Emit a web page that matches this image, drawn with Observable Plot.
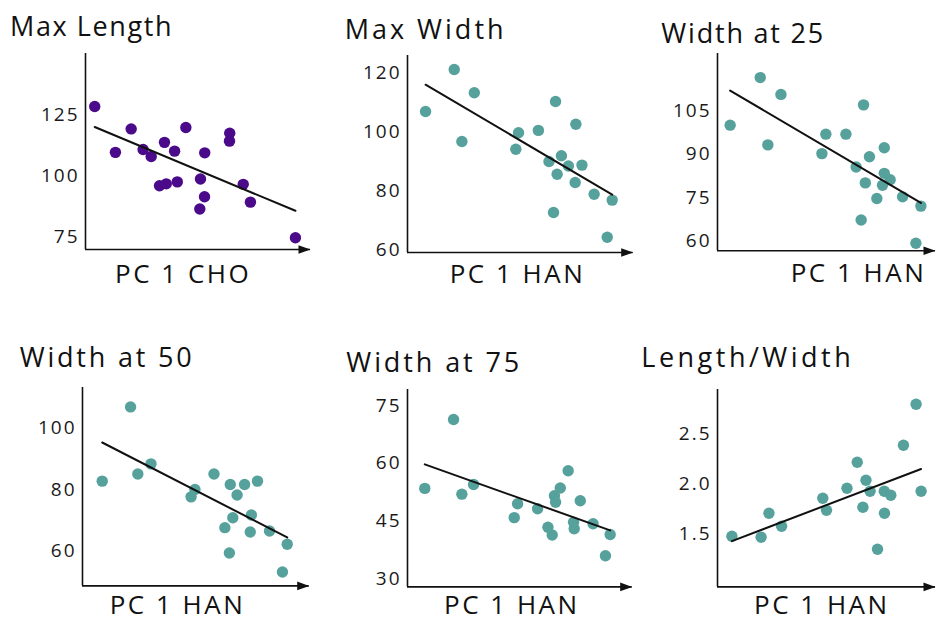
<!DOCTYPE html>
<html>
<head>
<meta charset="utf-8">
<script src="https://cdn.jsdelivr.net/npm/d3@7"></script>
<script src="https://cdn.jsdelivr.net/npm/@observablehq/plot@0.6"></script>
<style>
  html, body { margin: 0; padding: 0; background: #fff; overflow: hidden; }
  #chart { position: relative; width: 936px; height: 621px; font-family: "Open Sans", sans-serif; color: #111; }
  .title { position: absolute; font-size: 27px; line-height: 27px; white-space: nowrap; }
  .xlabel { position: absolute; font-size: 26px; line-height: 26px; white-space: nowrap; letter-spacing: 2.5px; }
  .panel { position: absolute; }
</style>
</head>
<body>
<div id="chart"></div>
<script>
// ---- data ----
const titles  = ["Max Length", "Max Width", "Width at 25", "Width at 50", "Width at 75", "Length/Width"];
const xLabels = ["PC 1 CHO", "PC 1 HAN", "PC 1 HAN", "PC 1 HAN", "PC 1 HAN", "PC 1 HAN"];

const maxLengthX = [0.41,1.33,2.03,2.56,2.92,3.29,3.59,3.51,3.96,4.08,4.46,5.11,5.30,5.29,5.08,6.41,6.40,7.01,7.33,9.33];
const maxLengthY = [128.3,109.5,119.1,110.7,107.8,95.8,96.6,113.6,110.0,97.4,119.7,98.6,109.3,91.3,86.3,117.3,114.1,96.4,89.1,74.5];

const maxWidthX = [0.80,2.07,2.96,2.41,4.92,4.80,5.80,6.56,7.46,6.27,6.82,6.63,7.13,7.73,7.43,8.27,9.07,6.47,8.85];
const maxWidthY = [107.0,121.3,113.4,96.8,99.8,94.2,100.6,110.4,102.7,90.0,92.0,85.7,88.5,88.8,82.9,78.9,76.9,72.7,64.3];

const width25X = [0.58,1.96,2.91,2.31,4.97,4.79,5.89,6.70,7.65,6.97,6.36,7.65,7.92,6.78,7.57,7.31,8.49,9.33,6.59,9.10];
const width25Y = [100.0,116.4,110.6,93.2,96.9,90.2,96.9,107.0,92.2,89.1,85.6,83.4,81.2,80.1,79.3,74.7,75.3,72.1,67.3,59.3];

const width50X = [0.87,2.12,2.44,3.02,4.96,4.79,5.80,6.52,7.15,7.72,6.82,6.63,7.45,6.28,7.40,8.25,9.03,6.48,8.82];
const width50Y = [82.7,106.8,85.0,88.3,80.0,77.6,85.0,81.6,81.6,82.7,78.2,70.8,71.7,67.6,66.2,66.5,62.2,59.4,53.2];

const width75X = [0.77,2.05,2.42,2.94,4.90,4.75,5.79,7.15,6.80,6.54,6.59,7.69,6.25,6.44,7.39,7.42,8.26,9.02,8.81];
const width75Y = [53.5,71.4,52.0,54.5,49.5,45.9,48.2,58.1,53.6,51.6,49.9,50.3,43.4,41.4,44.7,43.0,44.3,41.5,36.0];

const ratioX = [0.66,2.00,2.36,2.94,4.83,5.00,5.94,6.41,6.81,6.67,7.00,7.65,7.95,7.66,7.34,8.53,9.11,9.34];
const ratioY = [1.48,1.47,1.71,1.58,1.86,1.74,1.96,2.22,2.04,1.77,1.93,1.93,1.89,1.71,1.35,2.39,2.80,1.93];

const seriesX = [maxLengthX, maxWidthX, width25X, width50X, width75X, ratioX];
const seriesY = [maxLengthY, maxWidthY, width25Y, width50Y, width75Y, ratioY];

const yTicks   = [[125,100,75], [120,100,80,60], [105,90,75,60], [100,80,60], [75,60,45,30], [2.5,2.0,1.5]];
const yDomains = [[69.7,150], [59.1,126.05], [56.7,124.7], [48.7,113.1], [27.9,79.2], [0.973,2.947]];
const xDomain  = [0, 10];

// ---- layout & style ----
const dotColors = ["#4a0a8a", "#56a19c", "#56a19c", "#56a19c", "#56a19c", "#56a19c"];
const tickFormats = [d3.format("d"), d3.format("d"), d3.format("d"), d3.format("d"), d3.format("d"), d3.format(".1f")];
const layout = [
  {axisX: 85,    top: 53,   bottom: 249,   w: 225,   tX: 12,    tBase: 36,    tLs: 1.6, lX: 117,   lBase: 283},
  {axisX: 407.3, top: 55,   bottom: 252,   w: 225.7, tX: 346.7, tBase: 39.3,  tLs: 3.0, lX: 451.7, lBase: 283.3},
  {axisX: 717.3, top: 52.7, bottom: 250,   w: 218,   tX: 663.3, tBase: 42.7,  tLs: 1.8, lX: 792.7, lBase: 281.7},
  {axisX: 82.3,  top: 387.3,bottom: 585.7, w: 226.7, tX: 21.7,  tBase: 366.7, tLs: 2.8, lX: 111.7, lBase: 614},
  {axisX: 407.3, top: 389.3,bottom: 586.7, w: 224.7, tX: 348.3, tBase: 371.7, tLs: 2.9, lX: 446,   lBase: 614},
  {axisX: 717.3, top: 389.3,bottom: 586.7, w: 218,   tX: 643.3, tBase: 366.7, tLs: 3.5, lX: 756,   lBase: 614}
];

const arrowHead = {
  draw(ctx) { ctx.moveTo(6, 0); ctx.lineTo(-6, -4.3); ctx.lineTo(-6, 4.3); ctx.closePath(); }
};

const chart = document.getElementById("chart");
const mL = 60, mT = 8, mB = 8;

layout.forEach((L, i) => {
  const data = seriesX[i].map((x, k) => ({x, y: seriesY[i][k]}));
  const yDom = yDomains[i];
  const mR = (L.axisX + L.w > 930) ? 1 : 8;
  const plot = Plot.plot({
    width: mL + L.w + mR,
    height: mT + (L.bottom - L.top) + mB,
    marginLeft: mL, marginRight: mR, marginTop: mT, marginBottom: mB,
    x: {domain: xDomain, axis: null},
    y: {domain: yDom, ticks: yTicks[i], tickSize: 0, tickPadding: 6, label: null, tickFormat: tickFormats[i]},
    style: {fontFamily: "Open Sans", fontSize: "19px", color: "#1a1a1a", background: "transparent", overflow: "visible", letterSpacing: "2px"},
    marks: [
      Plot.ruleX([xDomain[0]], {stroke: "#111", strokeWidth: 1.6}),
      Plot.ruleY([yDom[0]], {stroke: "#111", strokeWidth: 1.6}),
      Plot.dot([{x: xDomain[1], y: yDom[0]}], {x: "x", y: "y", symbol: arrowHead, fill: "#111", r: 5, dx: -6}),
      Plot.dot(data, {x: "x", y: "y", r: 5.7, fill: dotColors[i], stroke: "none"}),
      Plot.linearRegressionY(data, {x: "x", y: "y", stroke: "#111", strokeWidth: 2, ci: 0})
    ]
  });
  const wrap = document.createElement("div");
  wrap.className = "panel";
  wrap.style.left = (L.axisX - mL) + "px";
  wrap.style.top = (L.top - mT) + "px";
  wrap.style.width = (mL + L.w + mR) + "px";
  wrap.appendChild(plot);
  chart.appendChild(wrap);
});

layout.forEach((L, i) => {
  const t = document.createElement("div");
  t.className = "title";
  t.textContent = titles[i];
  t.style.left = (L.tX - 2) + "px";
  t.style.top = (L.tBase - 24) + "px";
  t.style.letterSpacing = L.tLs + "px";
  chart.appendChild(t);

  const xl = document.createElement("div");
  xl.className = "xlabel";
  xl.textContent = xLabels[i];
  xl.style.left = (L.lX - 2) + "px";
  xl.style.top = (L.lBase - 23.1) + "px";
  chart.appendChild(xl);
});
</script>
</body>
</html>
